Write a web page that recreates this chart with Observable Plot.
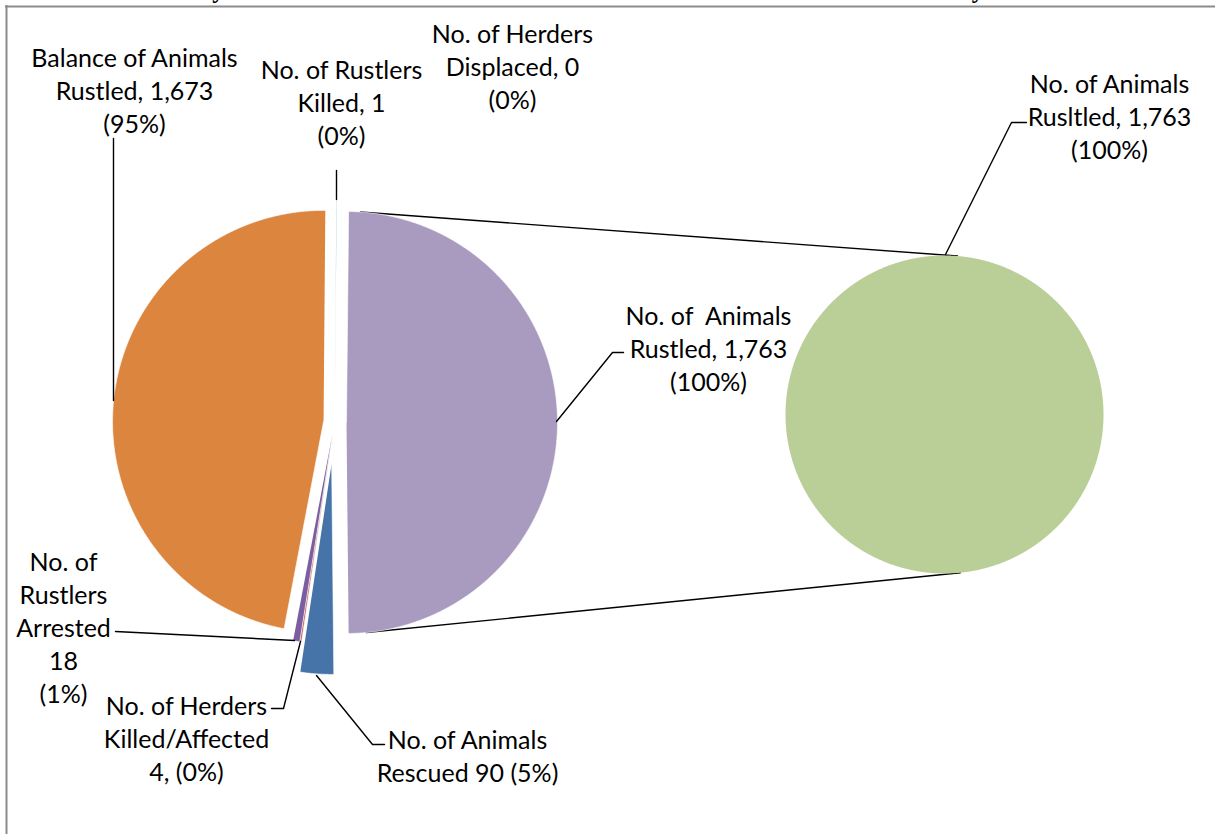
<!DOCTYPE html>
<html>
<head>
<meta charset="utf-8">
<script src="https://cdn.jsdelivr.net/npm/d3@7"></script>
<script src="https://cdn.jsdelivr.net/npm/@observablehq/plot@0.6"></script>
<style>
  html, body { margin: 0; padding: 0; background: #fff; }
  #chart svg { display: block; }
</style>
</head>
<body>
<div id="chart"></div>
<script>
// ---- data ----
const categories = [
  "No. of Animals Rustled",
  "No. of Animals Rescued",
  "No. of Herders Killed/Affected",
  "No. of Rustlers Arrested",
  "Balance of Animals Rustled",
  "No. of Rustlers Killed",
  "No. of Herders Displaced"
];
const values = [1763, 90, 4, 18, 1673, 1, 0];
const labelTemplates = [
  "No. of\u00a0 Animals\nRustled, {v}\n({p})",
  "No. of Animals\nRescued {v} ({p})",
  "No. of Herders\nKilled/Affected\n{v}, ({p})",
  "No. of\nRustlers\nArrested\n{v}\n({p})",
  "Balance of Animals\nRustled, {v}\n({p})",
  "No. of Rustlers\nKilled, {v}\n({p})",
  "No. of Herders\nDisplaced, {v}\n({p})"
];
const secondCategories = ["No. of Animals Rusltled"];
const secondValues = [1763];
const secondTemplates = ["No. of Animals\nRusltled, {v}\n({p})"];
const title = "Summary of Animals Rustled and Herders Rescued and Affected between January and June";

// ---- styling / layout ----
const colors = ["#a99bbf", "#4673a8", "#c0504d", "#7b5e9f", "#dc853e", "#4bacc6", "#9bbb59"];
const secondColor = "#b9cf97";
const explode = [12, 41, 11, 11, 11, 11, 11];
const pieA = {cx: 334, cy: 422, r: 211};
const pieB = {cx: 944, cy: 414, r: 159};
const labelPos = [
  [708, 346.5], [467, 754.5], [186, 736.5], [63, 626], [134, 88.5], [341, 101], [512, 64.5]
];
const secondLabelPos = [[1109, 115]];
const leaders = [
  [[556, 421], [612, 352], [623, 352]],
  [[316, 675], [372, 744], [384, 744]],
  [[271, 708], [283, 708], [300, 641]],
  [[115, 631], [294, 640]],
  [[113, 138], [113, 400]],
  [[336, 170], [336, 199]],
  null
];
const secondLeader = [[945, 254], [1011, 122], [1026, 122]];

const base = values[0];
const fmt = d3.format(",");
const pct = v => Math.round(v / base * 100) + "%";
const fill = (t, v) => t.replace("{v}", fmt(v)).replace("{p}", pct(v));

const rad = a => a * Math.PI / 180;
function wedge(cx, cy, r, a0, a1, off, key) {
  const mid = (a0 + a1) / 2;
  const ox = cx + off * Math.sin(rad(mid));
  const oy = cy - off * Math.cos(rad(mid));
  const pts = [];
  const full = a1 - a0 >= 359.999;
  if (!full) pts.push({x: ox, y: oy, key});
  const n = Math.max(2, Math.ceil((a1 - a0) / 0.25));
  for (let i = 0; i <= n; i++) {
    const a = a0 + (a1 - a0) * i / n;
    pts.push({x: ox + r * Math.sin(rad(a)), y: oy - r * Math.cos(rad(a)), key});
  }
  return {pts, ox, oy};
}

// left pie: the split-out slice is centred on 3 o'clock, the rest follow clockwise
const total = d3.sum(values);
const spans = values.map(v => v / total * 360);
let a = 90 - spans[0] / 2;
const slices = values.map((v, i) => {
  const a0 = a, a1 = a + spans[i];
  a = a1;
  return {i, a0, a1, ...wedge(pieA.cx, pieA.cy, pieA.r, a0, a1, explode[i], categories[i])};
});

// right pie
const totalB = d3.sum(secondValues);
let b = 0;
const slicesB = secondValues.map((v, i) => {
  const a0 = b, a1 = b + v / totalB * 360;
  b = a1;
  return {i, a0, a1, ...wedge(pieB.cx, pieB.cy, pieB.r, a0, a1, 0, secondCategories[i])};
});

// series lines joining the split slice to the second pie
const comp = slices[0];
const onA = ang => ({x: comp.ox + pieA.r * Math.sin(rad(ang)), y: comp.oy - pieA.r * Math.cos(rad(ang))});
const onB = ang => ({x: pieB.cx + pieB.r * Math.sin(rad(ang)), y: pieB.cy - pieB.r * Math.cos(rad(ang))});
const connectors = [
  [onA(3.8), onB(4.7)],
  [onA(174.6), onB(174.3)]
];

const labelData = values.map((v, i) => ({x: labelPos[i][0], y: labelPos[i][1], text: fill(labelTemplates[i], v)}))
  .concat(secondValues.map((v, i) => ({x: secondLabelPos[i][0], y: secondLabelPos[i][1], text: fill(secondTemplates[i], v)})));

const leaderData = [];
leaders.concat([secondLeader]).forEach((l, k) => {
  if (l) l.forEach(([x, y]) => leaderData.push({x, y, k}));
});
const connectorData = [];
connectors.forEach((c, k) => c.forEach(p => connectorData.push({...p, k})));

const textFont = "Lato, 'Open Sans', sans-serif";

const marks = [
  // chart frame (top and left edges)
  Plot.ruleY([6], {x1: 5, x2: 1215, stroke: "#8c8c8c", strokeWidth: 2}),
  Plot.ruleX([6], {y1: 5, y2: 834, stroke: "#8c8c8c", strokeWidth: 2}),
  Plot.text([title], {x: () => 603, y: () => -10, text: d => d, fontSize: 24.5, fontWeight: "bold",
    fontFamily: "'Liberation Serif', 'DejaVu Serif', serif", fill: "#000", lineAnchor: "middle"}),
  Plot.line(connectorData, {x: "x", y: "y", z: "k", stroke: "#000", strokeWidth: 1.4}),
  ...slices.filter(s => values[s.i] > 0).map(s =>
    Plot.line(s.pts, {x: "x", y: "y", fill: colors[s.i], stroke: "#fff", strokeWidth: 0.6, curve: "linear"})),
  ...slicesB.map(s =>
    Plot.line(s.pts, {x: "x", y: "y", fill: secondColor, stroke: "none", curve: "linear"})),
  Plot.line(leaderData, {x: "x", y: "y", z: "k", stroke: "#000", strokeWidth: 1.4}),
  Plot.text(labelData, {x: "x", y: "y", text: "text", fontSize: 25, lineHeight: 1.32,
    fontFamily: textFont, fill: "#000", textAnchor: "middle", lineAnchor: "middle"})
];

const chart = Plot.plot({
  width: 1215,
  height: 834,
  margin: 0,
  style: {background: "#fff", overflow: "visible"},
  x: {domain: [0, 1215], range: [0, 1215], axis: null},
  y: {domain: [0, 834], range: [0, 834], axis: null},
  marks
});
document.getElementById("chart").append(chart);
</script>
</body>
</html>
